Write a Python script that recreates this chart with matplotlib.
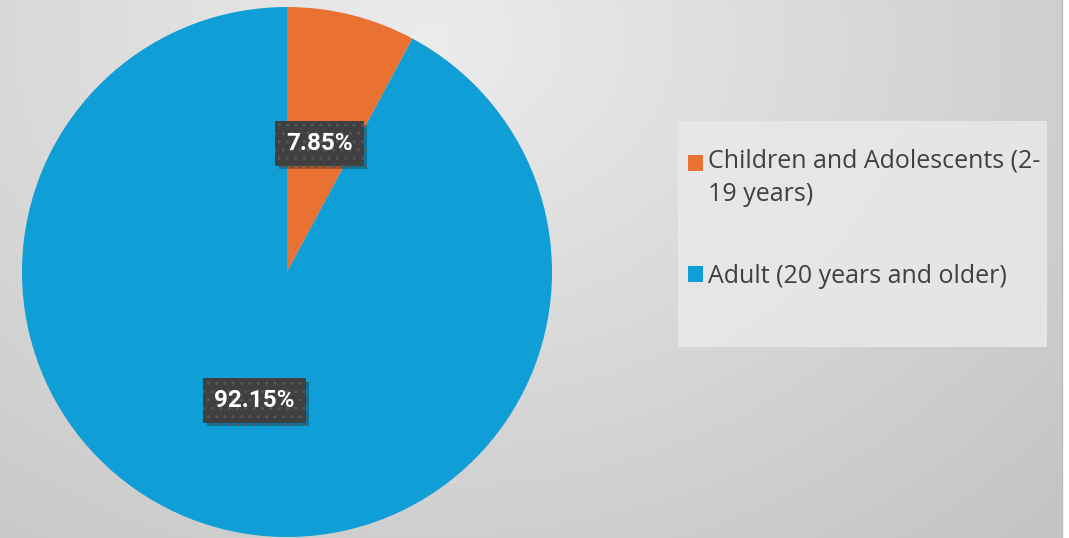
import numpy as np
import matplotlib
matplotlib.use("Agg")
import matplotlib.pyplot as plt
from matplotlib.patches import Rectangle, Patch
from matplotlib.legend_handler import HandlerPatch
import matplotlib.patheffects as pe

categories = ["Children and Adolescents (2-\n19 years)", "Adult (20 years and older)"]
values = [7.85, 92.15]
colors = ["#E97132", "#0F9ED5"]

W, H = 1069, 538
fig = plt.figure(figsize=(W / 100, H / 100), dpi=100)
fig.patch.set_facecolor("white")

# background radial gradient
bg = fig.add_axes([0, 0, 1062 / W, 1])
yy, xx = np.mgrid[0:H, 0:1062]
d = np.sqrt(((xx - 430) / 900.0) ** 2 + ((yy - 40) / 700.0) ** 2)
g = np.clip(0.925 - 0.16 * d, 0.77, 0.93)
bg.imshow(np.dstack([g, g, g]), aspect="auto", interpolation="bilinear")
bg.set_axis_off()
fig.add_artist(plt.Line2D([1062 / W, 1062 / W], [0, 1], transform=fig.transFigure,
                          color="#bdbdbd", lw=1))

# legend panel
fig.add_artist(Rectangle((678 / W, (H - 347) / H), (1047 - 678) / W, (347 - 121) / H,
                         transform=fig.transFigure, facecolor="#e9e9e9",
                         edgecolor="none", zorder=1, alpha=0.85))

r = 265
cx, cy = 287, 272
ax = fig.add_axes([(cx - r) / W, (H - cy - r) / H, 2 * r / W, 2 * r / H])
ax.set_facecolor("none")
wedges, texts, autotexts = ax.pie(values, colors=colors, startangle=90, counterclock=False,
                                  autopct=lambda p: f"{p:.2f}%", pctdistance=0.5,
                                  radius=1.0, wedgeprops=dict(linewidth=0))
ax.set_xlim(-1, 1)
ax.set_ylim(-1, 1)
ax.set_aspect("equal")

for t in autotexts:
    t.set_fontsize(17.5)
    t.set_fontweight("bold")
    t.set_family("Roboto")
    t.set_color("white")
    t.set_zorder(4)
    t.set_bbox(dict(boxstyle="square,pad=0.45", fc="#404040", ec="#575757",
                    lw=0, hatch=".."))
    t.get_bbox_patch().set_path_effects([
        pe.SimplePatchShadow(offset=(2.5, -2.5), shadow_rgbFace="black", alpha=0.25),
        pe.Normal()])


class TopHandler(HandlerPatch):
    def __init__(self, shift, **kw):
        super().__init__(**kw)
        self.shift = shift

    def create_artists(self, legend, orig_handle, xdescent, ydescent, width, height,
                       fontsize, trans):
        p = Rectangle((-xdescent, -ydescent + self.shift), width, height,
                      facecolor=orig_handle.get_facecolor(), edgecolor="none",
                      transform=trans)
        return [p]


handles = [Patch(facecolor=c, edgecolor="none") for c in colors]
fs = 18
leg = fig.legend(handles, categories, loc="upper left",
                 bbox_to_anchor=(688 / W, (H - 149) / H), frameon=False,
                 prop=dict(family="Open Sans", size=fs), labelcolor="#404040",
                 handlelength=0.6, handleheight=0.6, handletextpad=0.22,
                 labelspacing=2.28, borderpad=0, borderaxespad=0,
                 handler_map={handles[0]: TopHandler(shift=11.3),
                              handles[1]: TopHandler(shift=0)})
for txt in leg.get_texts():
    txt.set_linespacing(1.42)

fig.savefig("out.png", dpi=100, facecolor=fig.get_facecolor())
